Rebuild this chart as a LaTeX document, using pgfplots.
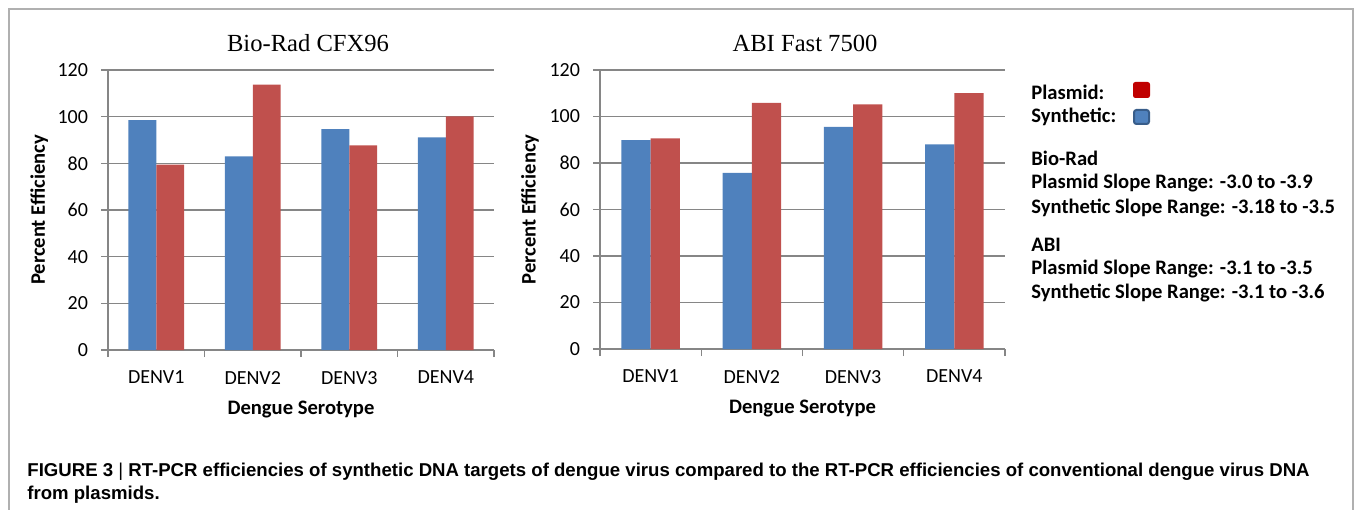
\documentclass[border=0pt]{standalone}
\usepackage{pgfplots}
\pgfplotsset{compat=1.18}
\usepackage{fontspec}
\setmainfont{Carlito}
\newfontfamily\titlefont{Liberation Serif}
\newfontfamily\capfont{Liberation Sans}
\definecolor{cblue}{HTML}{4F81BD}
\definecolor{cred}{HTML}{C0504D}
\definecolor{gridgray}{HTML}{868686}
\definecolor{legred}{HTML}{C00000}
\definecolor{legblueborder}{HTML}{385D8A}
\definecolor{framegray}{HTML}{B0B0B0}

\pgfplotsset{myax/.style={
  scale only axis,
  ybar=0pt, bar width=0.29,
  ymin=0, ymax=120, ytick={0,20,...,120},
  xmin=-0.5, xmax=3.5,
  xtick={-0.5,0.5,1.5,2.5,3.5},
  x tick label as interval,
  xticklabels={DENV1,DENV2,DENV3,DENV4},
  axis x line*=bottom, axis y line*=left,
  ymajorgrids,
  grid style={gridgray, line width=0.6pt},
  axis line style={gridgray, line width=0.6pt},
  tick style={gridgray, line width=0.6pt},
  major tick length=3.5pt,
  tick align=outside,
  /pgf/number format/assume math mode=true,
  ticklabel style={font=\fontsize{10}{12}\selectfont, text=black},
  xticklabel style={yshift=-3.5pt},
  yticklabel style={xshift=-3pt},
  label style={font=\bfseries\fontsize{10.3}{12}\selectfont},
  xlabel={Dengue Serotype},
  ylabel={Percent Efficiency},
  xlabel style={at={(axis description cs:0.5,-0.213)}, anchor=center},
  ylabel style={at={(axis description cs:-0.178,0.5)}, anchor=center},
}}

\begin{document}
\begin{tikzpicture}
\path[use as bounding box] (0pt,0pt) rectangle (679pt,254.5pt);
\draw[framegray, line width=0.6pt] (4.5pt,-5pt) -- (4.5pt,250pt) -- (676.5pt,250pt) -- (676.5pt,-5pt);

\begin{axis}[myax, at={(54pt,79.5pt)}, anchor=south west, width=193pt, height=140pt]
\addplot[fill=cblue, draw=none] coordinates {(0,98.5) (1,83.0) (2,94.7) (3,91.1)};
\addplot[fill=cred, draw=none] coordinates {(0,79.4) (1,113.7) (2,87.7) (3,100.1)};
\end{axis}

\begin{axis}[myax, at={(300pt,80pt)}, anchor=south west, width=202.5pt, height=139.5pt,
  ylabel style={at={(axis description cs:-0.173,0.5)}, anchor=center},
  xlabel style={at={(axis description cs:0.5,-0.214)}, anchor=center}]
\addplot[fill=cblue, draw=none] coordinates {(0,89.8) (1,75.7) (2,95.5) (3,88.0)};
\addplot[fill=cred, draw=none] coordinates {(0,90.6) (1,105.9) (2,105.2) (3,110.1)};
\end{axis}

\node[font=\titlefont\fontsize{12.3}{14}\selectfont] at (154pt,233pt) {Bio-Rad CFX96};
\node[font=\titlefont\fontsize{12.3}{14}\selectfont] at (402.5pt,233pt) {ABI Fast 7500};

\begin{scope}[every node/.style={anchor=west, inner sep=0pt, font=\bfseries\fontsize{10.3}{12}\selectfont}]
\node at (515.5pt,208.5pt) {Plasmid:};
\node at (515.5pt,196pt) {Synthetic:};
\node at (515.5pt,175.5pt) {Bio-Rad};
\node at (515.5pt,163pt) {Plasmid Slope Range: -3.0 to -3.9};
\node at (515.5pt,150.5pt) {Synthetic Slope Range: -3.18 to -3.5};
\node at (515.5pt,132pt) {ABI};
\node at (515.5pt,120pt) {Plasmid Slope Range: -3.1 to -3.5};
\node at (515.5pt,108pt) {Synthetic Slope Range: -3.1 to -3.6};
\end{scope}
\fill[legred, rounded corners=1.2pt] (566.5pt,205.5pt) rectangle (575pt,213.5pt);
\filldraw[fill=cblue, draw=legblueborder, line width=1pt, rounded corners=1.2pt] (567pt,192.5pt) rectangle (574.5pt,199.5pt);

\begin{scope}[every node/.style={anchor=base west, inner sep=0pt, font=\capfont\bfseries\fontsize{9.3}{11}\selectfont}]
\node at (13.5pt,16.5pt) {FIGURE 3 {\mdseries|} RT-PCR efficiencies of synthetic DNA targets of dengue virus compared to the RT-PCR efficiencies of conventional dengue virus DNA};
\node at (13.5pt,5pt) {from plasmids.};
\end{scope}
\end{tikzpicture}
\end{document}
